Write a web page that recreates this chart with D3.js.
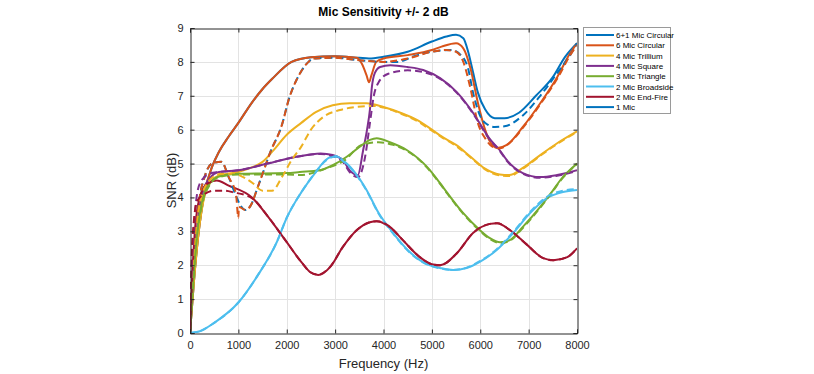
<!DOCTYPE html>
<html>
<head>
<meta charset="utf-8">
<script src="https://cdn.jsdelivr.net/npm/d3@7"></script>
<style>
  body { margin: 0; background: #fff; }
  text { font-family: "Liberation Sans", Arial, sans-serif; }
</style>
</head>
<body>
<script>
// frequency (Hz) / SNR (dB), one pair of arrays per curve
var circ7Hz  = [0,80,165,310,455,600,800,1000,1280,1500,1700,2100,2500,3000,3500,3700,4000,4500,5000,5300,5500,5650,5750,5850,5950,6100,6300,6500,6800,7150,7500,7750,8000];
var circ7Snr = [0,1.5,2.8,4.2,4.9,5.35,5.8,6.2,6.8,7.2,7.5,8.0,8.14,8.17,8.12,8.1,8.15,8.3,8.6,8.75,8.8,8.7,8.3,7.7,7.1,6.6,6.34,6.34,6.5,7.0,7.55,8.14,8.55];
var circ7DashHz  = [0,100,200,300,450,650,800,950,1050,1150,1250,1400,1550,1650,1900,2050,2250,2450,2550,3000,3500,4000,4300,4600,5000,5400,5600,5750,5850,6000,6150,6300,6500,6880,7240,7590,7900,8000];
var circ7DashSnr = [0,2.6,4.0,4.6,5.0,5.05,4.6,4.05,3.75,3.63,3.75,4.3,4.9,5.3,6.14,6.93,7.6,8.0,8.1,8.12,8.05,8.0,8.0,8.15,8.3,8.35,8.2,7.8,7.1,6.4,6.15,6.08,6.1,6.42,7.0,7.67,8.3,8.55];

var circ6Hz  = [0,80,165,310,455,600,800,1000,1280,1500,1700,2100,2500,3000,3450,3550,3650,3700,3750,3850,4000,4500,5000,5200,5500,5650,5800,5950,6100,6200,6350,6550,6880,7240,7590,7860,8000];
var circ6Snr = [0,1.5,2.8,4.2,4.9,5.35,5.8,6.2,6.8,7.2,7.5,8.0,8.14,8.17,8.12,7.95,7.6,7.4,7.6,8.0,8.1,8.2,8.35,8.45,8.55,8.4,7.8,6.8,6.0,5.65,5.46,5.55,6.08,6.78,7.55,8.26,8.55];
var circ6DashHz  = [0,100,200,300,450,650,800,950,1000,1010,1150,1250,1400,1550,1650,1900,2050,2250,2450,2550,3000,3500,4000,4500,5000,5300,5500,5650,5800,5950,6100,6250,6400,6600,6880,7240,7590,7860,8000];
var circ6DashSnr = [0,2.6,4.0,4.6,5.0,5.05,4.6,4.1,3.4,3.72,3.63,3.75,4.3,4.9,5.3,6.14,6.93,7.6,8.0,8.1,8.12,8.05,8.0,8.1,8.3,8.35,8.3,8.0,7.2,6.2,5.75,5.5,5.45,5.6,6.05,6.75,7.5,8.2,8.5];

var trilHz  = [0,80,165,310,450,600,1000,1300,1500,1700,2000,2300,2600,2950,3300,3650,4000,4350,4700,5000,5200,5500,5800,6100,6400,6600,6880,7240,7590,8000];
var trilSnr = [0,1.5,2.8,4.1,4.5,4.65,4.75,4.9,5.05,5.35,5.85,6.2,6.52,6.72,6.78,6.78,6.67,6.5,6.28,6.0,5.8,5.55,5.2,4.85,4.68,4.66,4.87,5.25,5.6,5.95];
var trilDashHz  = [0,100,200,400,650,900,1100,1300,1500,1700,1900,2100,2300,2500,2750,3100,3450,3800,4000,4350,4700,5000,5200,5500,5800,6100,6400,6600,6880,7240,7590,8000];
var trilDashSnr = [0,2.4,3.8,4.5,4.7,4.7,4.6,4.42,4.2,4.2,4.6,5.1,5.5,6.0,6.37,6.58,6.67,6.7,6.65,6.48,6.25,5.97,5.78,5.52,5.18,4.83,4.65,4.63,4.85,5.23,5.58,5.93];

var squareHz  = [0,60,140,250,400,600,1000,1600,2200,2700,2950,3160,3300,3470,3580,3660,3720,3760,3820,3930,4140,4490,4820,5170,5520,5850,6200,6400,6550,6880,7240,7590,8000];
var squareSnr = [0,1.5,3.0,4.1,4.55,4.75,4.8,5.0,5.2,5.3,5.25,5.1,4.8,4.66,5.4,6.0,6.6,7.26,7.67,7.85,7.9,7.85,7.76,7.52,7.1,6.5,5.72,5.4,5.1,4.72,4.6,4.66,4.8];
var squareDashHz  = [0,40,100,200,400,600,1000,1600,2200,2700,2950,3160,3300,3470,3620,3720,3800,3900,4100,4500,4820,5170,5520,5850,6200,6400,6550,6880,7240,7590,8000];
var squareDashSnr = [0,2.0,3.5,4.4,4.7,4.75,4.8,5.0,5.2,5.28,5.22,5.05,4.75,4.6,5.2,6.2,7.0,7.4,7.65,7.75,7.7,7.5,7.08,6.48,5.7,5.38,5.08,4.7,4.58,4.64,4.78];

var triHz  = [0,60,140,250,400,600,1000,2000,2270,2680,2950,3240,3510,3720,3860,4130,4480,4900,5170,5310,5640,5990,6200,6410,6610,6880,7240,7500,7650,8000];
var triSnr = [0,1.4,2.9,3.9,4.4,4.62,4.7,4.72,4.75,4.8,4.95,5.2,5.5,5.7,5.75,5.63,5.4,4.9,4.42,4.15,3.55,3.04,2.8,2.68,2.74,3.13,3.72,4.2,4.5,5.0];
var triDashHz  = [0,60,140,250,400,600,1000,2000,2270,2800,3200,3550,3900,4200,4480,4900,5170,5310,5640,5990,6200,6410,6610,6880,7240,7500,7650,8000];
var triDashSnr = [0,1.3,2.8,3.8,4.35,4.6,4.68,4.68,4.66,4.85,5.1,5.55,5.63,5.55,5.38,4.88,4.4,4.13,3.53,3.02,2.77,2.65,2.72,3.1,3.7,4.18,4.48,4.98];

var broadHz  = [0,200,500,1000,1400,1800,2000,2300,2600,2800,3000,3200,3450,3650,3900,4200,4500,4750,4960,5170,5440,5720,5990,6340,6680,7030,7380,7710,8000];
var broadSnr = [0,0.05,0.3,0.9,1.7,2.7,3.4,4.15,4.75,5.1,5.22,5.05,4.66,4.22,3.54,2.95,2.45,2.15,2.0,1.92,1.86,1.92,2.1,2.45,2.95,3.54,3.98,4.16,4.22];
var broadDashHz  = [0,200,500,1000,1400,1800,2000,2300,2600,2800,3000,3200,3450,3650,3900,4200,4500,4750,4960,5170,5440,5720,5990,6340,6680,7030,7380,7710,8000];
var broadDashSnr = [0,0.05,0.3,0.9,1.7,2.7,3.4,4.15,4.75,5.08,5.2,5.03,4.64,4.2,3.52,2.93,2.43,2.14,1.99,1.91,1.86,1.93,2.12,2.47,2.98,3.57,4.02,4.2,4.25];

var endHz  = [0,40,100,200,350,550,800,1280,1620,1970,2320,2480,2650,2900,3160,3450,3720,3860,4130,4400,4750,5000,5170,5520,5850,6200,6350,6610,6970,7300,7510,7800,8000];
var endSnr = [0,1.5,3.0,4.0,4.4,4.5,4.35,4.0,3.42,2.74,2.06,1.8,1.71,1.95,2.54,3.04,3.27,3.3,3.13,2.74,2.24,2.03,2.0,2.36,2.95,3.22,3.24,3.04,2.6,2.21,2.15,2.24,2.5];
var endDashHz  = [0,30,80,150,300,500,700,900,1280,1620,1970,2320,2480,2650,2900,3160,3450,3720,3860,4130,4400,4750,5000,5170,5520,5850,6200,6350,6610,6970,7300,7510,7800,8000];
var endDashSnr = [0,2.0,3.3,3.9,4.1,4.2,4.2,4.15,3.98,3.42,2.74,2.06,1.8,1.72,1.96,2.54,3.04,3.27,3.3,3.13,2.74,2.24,2.03,2.0,2.36,2.95,3.22,3.24,3.04,2.6,2.21,2.15,2.24,2.5];

var oneMicHz  = [];
var oneMicSnr = [];

var legendNames = ['6+1 Mic Circular', '6 Mic Circular', '4 Mic Trillium', '4 Mic Square', '3 Mic Triangle', '2 Mic Broadside', '2 Mic End-Fire', '1 Mic'];
var colors = ['#0072BD', '#D95319', '#EDB120', '#7E2F8E', '#77AC30', '#4DBEEE', '#A2142F', '#0072BD'];
var xTicks = [0,1000,2000,3000,4000,5000,6000,7000,8000];
var yTicks = [0,1,2,3,4,5,6,7,8,9];

var solid = [[circ7Hz, circ7Snr], [circ6Hz, circ6Snr], [trilHz, trilSnr], [squareHz, squareSnr], [triHz, triSnr], [broadHz, broadSnr], [endHz, endSnr], [oneMicHz, oneMicSnr]];
var dashed = [[circ7DashHz, circ7DashSnr], [circ6DashHz, circ6DashSnr], [trilDashHz, trilDashSnr], [squareDashHz, squareDashSnr], [triDashHz, triDashSnr], [broadDashHz, broadDashSnr], [endDashHz, endDashSnr]];

var W = 814, H = 374;
var pL = 190, pR = 577, pT = 28, pB = 333;

var svg = d3.select('body').append('svg').attr('width', W).attr('height', H);

var x = d3.scaleLinear().domain([0, 8000]).range([pL, pR]);
var y = d3.scaleLinear().domain([0, 9]).range([pB, pT]);

// grid
var grid = svg.append('g').attr('stroke', '#e3e3e3').attr('stroke-width', 1);
grid.selectAll('.gx').data(xTicks.slice(1, -1)).enter().append('line')
  .attr('x1', function (d) { return Math.round(x(d)) + 0.5; }).attr('x2', function (d) { return Math.round(x(d)) + 0.5; })
  .attr('y1', pT).attr('y2', pB);
grid.selectAll('.gy').data(yTicks.slice(1, -1)).enter().append('line')
  .attr('y1', function (d) { return Math.round(y(d)) + 0.5; }).attr('y2', function (d) { return Math.round(y(d)) + 0.5; })
  .attr('x1', pL).attr('x2', pR);

svg.append('clipPath').attr('id', 'plot').append('rect')
  .attr('x', pL).attr('y', pT).attr('width', pR - pL).attr('height', pB - pT);

var line = d3.line().curve(d3.curveMonotoneX)
  .x(function (d) { return x(d[0]); }).y(function (d) { return y(d[1]); });

function pairs(s) { return s[0].map(function (f, i) { return [f, s[1][i]]; }); }

var plot = svg.append('g').attr('clip-path', 'url(#plot)');
solid.forEach(function (s, i) {
  if (!s[0].length) return;
  plot.append('path').attr('d', line(pairs(s))).attr('fill', 'none')
    .attr('stroke', colors[i]).attr('stroke-width', 2);
});
dashed.forEach(function (s, i) {
  plot.append('path').attr('d', line(pairs(s))).attr('fill', 'none')
    .attr('stroke', colors[i]).attr('stroke-width', 2).attr('stroke-dasharray', '7,4');
});

// axes (MATLAB style: ticks inside, box)
var axCol = '#262626';
var xAxis = d3.axisBottom(x).tickValues(xTicks).tickSize(-4).tickPadding(8).tickFormat(d3.format('d'));
var yAxis = d3.axisLeft(y).tickValues(yTicks).tickSize(-4).tickPadding(7);
var gx = svg.append('g').attr('transform', 'translate(0,' + (pB + 0.5) + ')').call(xAxis);
var gy = svg.append('g').attr('transform', 'translate(' + (pL + 0.5) + ',0)').call(yAxis);
var gx2 = svg.append('g').attr('transform', 'translate(0,' + (pT + 0.5) + ')').call(d3.axisTop(x).tickValues(xTicks).tickSize(-4).tickFormat(''));
var gy2 = svg.append('g').attr('transform', 'translate(' + (pR + 0.5) + ',0)').call(d3.axisRight(y).tickValues(yTicks).tickSize(-4).tickFormat(''));
[gx, gy, gx2, gy2].forEach(function (g) {
  g.selectAll('path, line').attr('stroke', axCol);
  g.selectAll('text').attr('fill', axCol).style('font-size', '11px').style('font-family', '"Liberation Sans", Arial, sans-serif');
});

svg.append('text').attr('x', (pL + pR) / 2).attr('y', 16).attr('text-anchor', 'middle')
  .style('font-size', '12px').style('font-weight', 'bold').attr('fill', '#000').text('Mic Sensitivity +/- 2 dB');
svg.append('text').attr('x', (pL + pR) / 2).attr('y', 368).attr('text-anchor', 'middle')
  .style('font-size', '13px').attr('fill', axCol).text('Frequency (Hz)');
svg.append('text').attr('transform', 'translate(176,' + ((pT + pB) / 2) + ') rotate(-90)').attr('text-anchor', 'middle')
  .style('font-size', '13px').attr('fill', axCol).text('SNR (dB)');

// legend
var lg = svg.append('g').attr('transform', 'translate(583,27)');
lg.append('rect').attr('x', 0.5).attr('y', 0.5).attr('width', 87).attr('height', 86)
  .attr('fill', '#fff').attr('stroke', '#9a9a9a');
var item = lg.selectAll('.item').data(legendNames).enter().append('g')
  .attr('transform', function (d, i) { return 'translate(0,' + (8 + i * 10.3) + ')'; });
item.append('line').attr('x1', 3).attr('x2', 31).attr('stroke-width', 2)
  .attr('stroke', function (d, i) { return colors[i]; });
item.append('text').attr('x', 33).attr('y', 3).style('font-size', '8px').attr('fill', '#000')
  .text(function (d) { return d; });
</script>
</body>
</html>
